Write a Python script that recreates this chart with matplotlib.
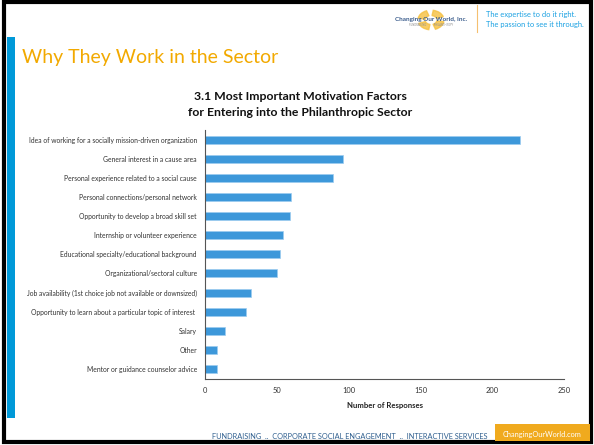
import matplotlib.pyplot as plt
from matplotlib.patches import Rectangle, Wedge
import numpy as np

plt.rcParams['font.family'] = ['Lato', 'DejaVu Sans']

# motivation factors, top to bottom
factors = [
    "Idea of working for a socially mission-driven organization",
    "General interest in a cause area",
    "Personal experience related to a social cause",
    "Personal connections/personal network",
    "Opportunity to develop a broad skill set",
    "Internship or volunteer experience",
    "Educational specialty/educational background",
    "Organizational/sectoral culture",
    "Job availability (1st choice job not available or downsized)",
    "Opportunity to learn about a particular topic of interest ",
    "Salary",
    "Other",
    "Mentor or guidance counselor advice",
]
responses = [219, 96, 89, 60, 59, 54, 52, 50, 32, 28, 14, 8, 8]
xticks = [0, 50, 100, 150, 200, 250]

W, H = 594, 445
fig = plt.figure(figsize=(W / 100, H / 100), dpi=100)


def fx(px):
    return px / W


def fy(py):
    return 1 - py / H


# slide frame and left accent bar
fig.patches.append(Rectangle((fx(4), fy(442)), fx(587), 440 / H, transform=fig.transFigure,
                             fill=False, edgecolor='black', linewidth=3))
fig.patches.append(Rectangle((fx(7), fy(418)), fx(8), 381 / H, transform=fig.transFigure,
                             color='#0099D8', linewidth=0))

# header
fig.text(fx(22), fy(57), "Why They Work in the Sector", color='#F2A900', fontsize=14,
         va='center', ha='left')

# logo
for a1, a2 in [(20, 80), (110, 170), (200, 260), (290, 350)]:
    fig.patches.append(Wedge((fx(431), fy(20)), 0.022, a1, a2, width=0.012,
                             transform=fig.transFigure, color='#F5C040', alpha=0.8))
fig.text(fx(431), fy(19), "Changing Our World, Inc.", color='#3A5C8C', fontsize=4.6,
         fontweight='bold', ha='center', va='center')
fig.text(fx(431), fy(25), "FUNDRAISING            PHILANTHROPY", color='#8A8A8A', fontsize=1.8,
         ha='center', va='center')
fig.lines.append(plt.Line2D([fx(477), fx(477)], [fy(5), fy(32)], transform=fig.transFigure,
                            color='#F5C070', linewidth=0.8))
fig.text(fx(486), fy(14.5), "The expertise to do it right.", color='#1BA1E2', fontsize=5.4,
         va='center')
fig.text(fx(486), fy(25), "The passion to see it through.", color='#1BA1E2', fontsize=5.4,
         va='center')

# chart
ax = fig.add_axes([fx(205.3), fy(378.7), fx(359), 248.7 / H])
y = np.arange(len(factors))
ax.barh(y, responses, height=0.42, color='#3D98DA', edgecolor='#9CCBEF', linewidth=0.5)
ax.set_ylim(len(factors) - 0.5, -0.5)
ax.set_xlim(0, 250)
ax.set_xticks(xticks)
ax.set_xticklabels([str(t) for t in xticks])
ax.set_yticks(y)
ax.set_yticklabels(factors)
ax.tick_params(axis='y', length=0, labelsize=4.9, colors='#333333', pad=6)
ax.tick_params(axis='x', length=0, labelsize=5.4, colors='#333333', pad=6)
for s in ['top', 'right']:
    ax.spines[s].set_visible(False)
for s in ['left', 'bottom']:
    ax.spines[s].set_color('#555555')
    ax.spines[s].set_linewidth(0.8)
ax.set_xlabel("Number of Responses", fontsize=5.6, fontweight='bold', color='#222222', labelpad=6)

fig.text(fx(300), fy(97), "3.1 Most Important Motivation Factors", fontsize=8.8,
         fontweight='bold', ha='center', va='center', color='#111111')
fig.text(fx(300), fy(113), "for Entering into the Philanthropic Sector", fontsize=8.8,
         fontweight='bold', ha='center', va='center', color='#111111')

# footer
fig.text(fx(487), fy(436.5), "FUNDRAISING  ..  CORPORATE SOCIAL ENGAGEMENT  ..  INTERACTIVE SERVICES",
         color='#2F5F8F', fontsize=5.3, ha='right', va='center')
fig.patches.append(Rectangle((fx(495), fy(441)), fx(95), 17 / H, transform=fig.transFigure,
                             color='#F0AA1E', linewidth=0))
fig.text(fx(542), fy(434), "ChangingOurWorld.com", color='white', fontsize=5.3,
         ha='center', va='center')

fig.savefig('out.png', dpi=100)
